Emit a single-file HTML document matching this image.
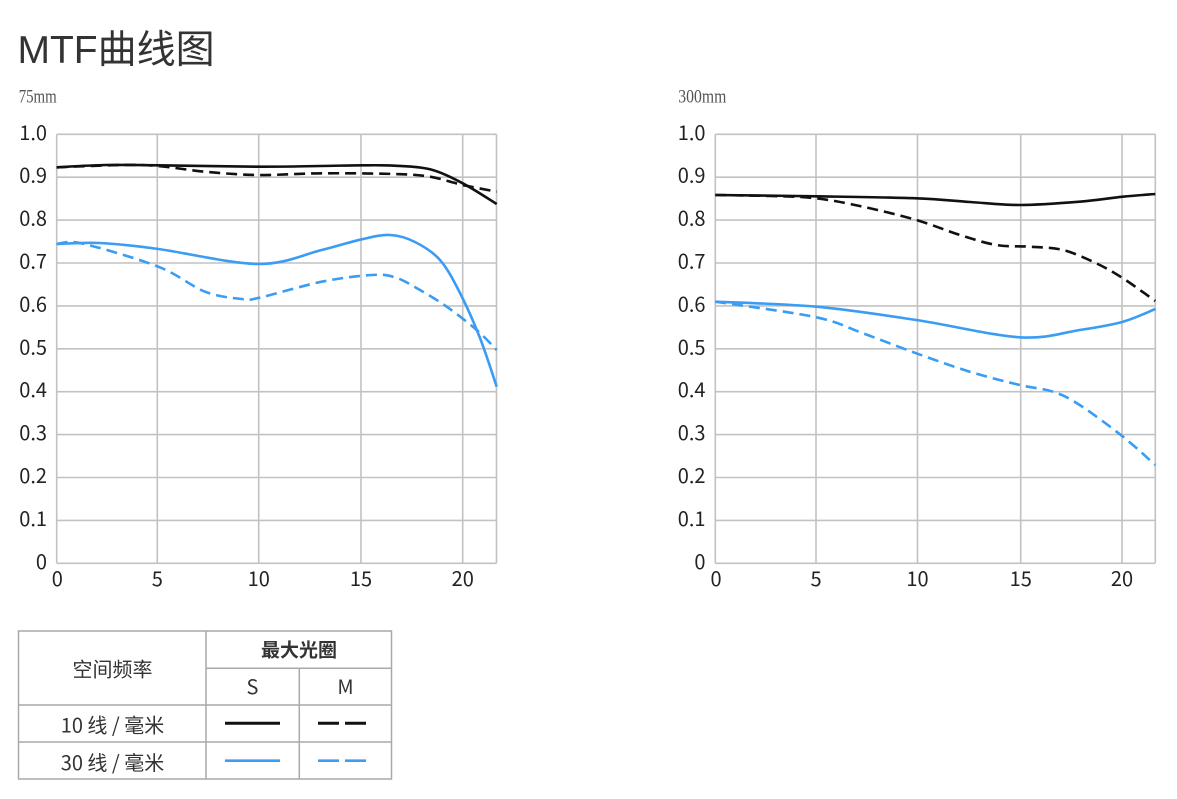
<!DOCTYPE html>
<html>
<head>
<meta charset="utf-8">
<style>
  html,body{margin:0;padding:0;background:#fff;}
  body{width:1177px;height:799px;overflow:hidden;}
  svg{display:block;}
  .tl{font-family:"Liberation Sans","Noto Sans CJK SC",sans-serif;}
  .ax{font-family:"Noto Sans CJK SC","Liberation Sans",sans-serif;font-size:20px;fill:#222;}
  .tb{font-family:"Noto Sans CJK SC","Liberation Sans",sans-serif;font-size:20px;fill:#333;}
  .sub{font-family:"Liberation Serif","Noto Serif CJK SC",serif;font-size:19px;fill:#555;}
  .g{stroke:#c2c2c2;stroke-width:1.6;fill:none;}
  .k{stroke:#111;stroke-width:2.6;fill:none;stroke-linejoin:round;}
  .b{stroke:#3a9cf2;stroke-width:2.6;fill:none;stroke-linejoin:round;}
  .d{stroke-dasharray:11 6;}
</style>
</head>
<body>
<svg width="1177" height="799" viewBox="0 0 1177 799" xmlns="http://www.w3.org/2000/svg">
  <!-- Title -->
  <text class="tl" x="17.5" y="63" font-size="39" fill="#333">MTF曲线图</text>
  <text class="sub" x="18.7" y="102.5" textLength="38" lengthAdjust="spacingAndGlyphs">75mm</text>
  <text class="sub" x="678.3" y="102.5" textLength="48" lengthAdjust="spacingAndGlyphs">300mm</text>

  <!-- LEFT PLOT grid -->
  <g class="g">
    <line x1="56.7" y1="134.3" x2="496.5" y2="134.3"/>
    <line x1="56.7" y1="177.2" x2="496.5" y2="177.2"/>
    <line x1="56.7" y1="220.1" x2="496.5" y2="220.1"/>
    <line x1="56.7" y1="263.0" x2="496.5" y2="263.0"/>
    <line x1="56.7" y1="305.9" x2="496.5" y2="305.9"/>
    <line x1="56.7" y1="348.8" x2="496.5" y2="348.8"/>
    <line x1="56.7" y1="391.7" x2="496.5" y2="391.7"/>
    <line x1="56.7" y1="434.6" x2="496.5" y2="434.6"/>
    <line x1="56.7" y1="477.5" x2="496.5" y2="477.5"/>
    <line x1="56.7" y1="520.4" x2="496.5" y2="520.4"/>
    <line x1="56.7" y1="563.3" x2="496.5" y2="563.3"/>
    <line x1="56.7" y1="134.3" x2="56.7" y2="563.3"/>
    <line x1="157.3" y1="134.3" x2="157.3" y2="563.3"/>
    <line x1="258.7" y1="134.3" x2="258.7" y2="563.3"/>
    <line x1="361" y1="134.3" x2="361" y2="563.3"/>
    <line x1="462.7" y1="134.3" x2="462.7" y2="563.3"/>
    <line x1="496.5" y1="134.3" x2="496.5" y2="563.3"/>
  </g>
  <g class="ax" text-anchor="end">
    <text x="47" y="139.8">1.0</text>
    <text x="47" y="182.7">0.9</text>
    <text x="47" y="225.6">0.8</text>
    <text x="47" y="268.5">0.7</text>
    <text x="47" y="311.4">0.6</text>
    <text x="47" y="354.3">0.5</text>
    <text x="47" y="397.2">0.4</text>
    <text x="47" y="440.1">0.3</text>
    <text x="47" y="483.0">0.2</text>
    <text x="47" y="525.9">0.1</text>
    <text x="47" y="568.8">0</text>
  </g>
  <g class="ax" text-anchor="middle">
    <text x="57.3" y="586">0</text>
    <text x="157.3" y="586">5</text>
    <text x="258.7" y="586">10</text>
    <text x="361" y="586">15</text>
    <text x="462.7" y="586">20</text>
  </g>

  <!-- RIGHT PLOT grid -->
  <g class="g">
    <line x1="715.3" y1="134.3" x2="1155.3" y2="134.3"/>
    <line x1="715.3" y1="177.2" x2="1155.3" y2="177.2"/>
    <line x1="715.3" y1="220.1" x2="1155.3" y2="220.1"/>
    <line x1="715.3" y1="263.0" x2="1155.3" y2="263.0"/>
    <line x1="715.3" y1="305.9" x2="1155.3" y2="305.9"/>
    <line x1="715.3" y1="348.8" x2="1155.3" y2="348.8"/>
    <line x1="715.3" y1="391.7" x2="1155.3" y2="391.7"/>
    <line x1="715.3" y1="434.6" x2="1155.3" y2="434.6"/>
    <line x1="715.3" y1="477.5" x2="1155.3" y2="477.5"/>
    <line x1="715.3" y1="520.4" x2="1155.3" y2="520.4"/>
    <line x1="715.3" y1="563.3" x2="1155.3" y2="563.3"/>
    <line x1="715.3" y1="134.3" x2="715.3" y2="563.3"/>
    <line x1="816" y1="134.3" x2="816" y2="563.3"/>
    <line x1="917.5" y1="134.3" x2="917.5" y2="563.3"/>
    <line x1="1020.7" y1="134.3" x2="1020.7" y2="563.3"/>
    <line x1="1122" y1="134.3" x2="1122" y2="563.3"/>
    <line x1="1155.3" y1="134.3" x2="1155.3" y2="563.3"/>
  </g>
  <g class="ax" text-anchor="end">
    <text x="705.5" y="139.8">1.0</text>
    <text x="705.5" y="182.7">0.9</text>
    <text x="705.5" y="225.6">0.8</text>
    <text x="705.5" y="268.5">0.7</text>
    <text x="705.5" y="311.4">0.6</text>
    <text x="705.5" y="354.3">0.5</text>
    <text x="705.5" y="397.2">0.4</text>
    <text x="705.5" y="440.1">0.3</text>
    <text x="705.5" y="483.0">0.2</text>
    <text x="705.5" y="525.9">0.1</text>
    <text x="705.5" y="568.8">0</text>
  </g>
  <g class="ax" text-anchor="middle">
    <text x="716" y="586">0</text>
    <text x="816" y="586">5</text>
    <text x="917.5" y="586">10</text>
    <text x="1020.7" y="586">15</text>
    <text x="1122" y="586">20</text>
  </g>

  <!-- LEFT curves -->
  <path class="k sm" d="M56.7,167.3 L105,165 L158.3,165.3 L258.3,166.7 L320,166 L361.7,165.3 L395,165.7 L430,169.3 L462.7,183.3 L496.7,204"/>
  <path class="k d sm" d="M56.7,167.3 L121.7,165 L158.3,166 L205,171.7 L258.3,175 L321.7,173.3 L395,174 L430,176.7 L462.7,185 L496.7,191.7"/>
  <path class="b sm" d="M56.7,244 L100,243 L158.3,249 L258.3,264 L321.7,250 L361.7,239.3 L390,235 L415,242 L440,260 L460,293 L480,338 L496.7,386.7"/>
  <path class="b d sm" d="M56.7,244 L82,243.5 L158.3,266.7 L205,291.7 L241.7,299 L258.3,298 L321.7,281.7 L371.7,275 L395,277.3 L420,290 L446.7,306.7 L476.7,330 L496.7,350"/>

  <!-- RIGHT curves -->
  <path class="k sm" d="M715.3,195 L816.3,196.3 L916.3,198.3 L970,202 L1019.7,205 L1079.7,201.7 L1123,196.7 L1155.3,194"/>
  <path class="k d sm" d="M715.3,195 L770,196 L816.3,198.3 L863,206.7 L916.3,220 L960,235 L996.3,245 L1029.7,246.7 L1063,250 L1096.3,263.3 L1123,278.3 L1155.3,301"/>
  <path class="b sm" d="M715.3,301.7 L816.3,306.7 L916.3,320 L1019.7,337.3 L1079.7,330 L1123,321.7 L1155.3,309"/>
  <path class="b d sm" d="M715.3,301.7 L816.3,317.3 L863,333.3 L916.3,353.3 L969.7,371.7 L1019.7,385 L1053,391.7 L1079.7,405 L1123,436.7 L1155.3,465"/>

  <!-- TABLE -->
  <g stroke="#a9a9a9" stroke-width="1.5" fill="none">
    <rect x="18.5" y="631" width="373" height="148"/>
    <line x1="206" y1="631" x2="206" y2="779"/>
    <line x1="299.3" y1="668.3" x2="299.3" y2="779"/>
    <line x1="206" y1="668.3" x2="391.5" y2="668.3"/>
    <line x1="18.5" y1="705" x2="391.5" y2="705"/>
    <line x1="18.5" y1="742" x2="391.5" y2="742"/>
  </g>
  <g class="tb" text-anchor="middle">
    <text x="112.5" y="676.5">空间频率</text>
    <text x="299" y="656.5" font-weight="bold" font-size="19">最大光圈</text>
    <text x="252.5" y="694">S</text>
    <text x="345.5" y="694">M</text>
    <text x="112.5" y="732.5">10 线 / 毫米</text>
    <text x="112.5" y="770">30 线 / 毫米</text>
  </g>
  <line x1="225" y1="723.3" x2="280" y2="723.3" stroke="#111" stroke-width="3"/>
  <line x1="318" y1="723.3" x2="367" y2="723.3" stroke="#111" stroke-width="3" stroke-dasharray="21 6"/>
  <line x1="225" y1="760.7" x2="280" y2="760.7" stroke="#3a9cf2" stroke-width="2.6"/>
  <line x1="318" y1="760.7" x2="367" y2="760.7" stroke="#3a9cf2" stroke-width="2.6" stroke-dasharray="21 6"/>
</svg>
<script>
(function(){
  var paths = document.querySelectorAll('path.sm');
  for (var i=0;i<paths.length;i++){
    var p = paths[i];
    var nums = p.getAttribute('d').match(/-?\d+(\.\d+)?/g).map(Number);
    var pts = [];
    for (var j=0;j<nums.length;j+=2) pts.push([nums[j],nums[j+1]]);
    var n = pts.length;
    var d = 'M' + pts[0][0] + ',' + pts[0][1];
    for (var k=0;k<n-1;k++){
      var p0 = pts[k>0?k-1:0], p1 = pts[k], p2 = pts[k+1], p3 = pts[k+2<n?k+2:n-1];
      var c1x = p1[0] + (p2[0]-p0[0])/6, c1y = p1[1] + (p2[1]-p0[1])/6;
      var c2x = p2[0] - (p3[0]-p1[0])/6, c2y = p2[1] - (p3[1]-p1[1])/6;
      d += ' C' + c1x.toFixed(2)+','+c1y.toFixed(2)+' '+c2x.toFixed(2)+','+c2y.toFixed(2)+' '+p2[0]+','+p2[1];
    }
    p.setAttribute('d', d);
  }
})();
</script>
</body>
</html>
